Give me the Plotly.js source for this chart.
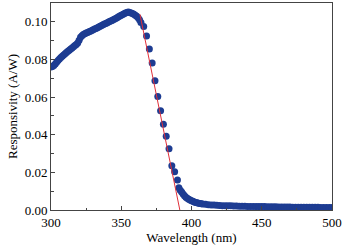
<!DOCTYPE html>
<html><head><meta charset="utf-8">
<script src="https://cdn.plot.ly/plotly-3.0.1.min.js"></script>
<style>html,body{margin:0;padding:0;background:#fff;}#plot{width:344px;height:245px;}</style>
</head><body><div id="plot"></div>
<script>
// Dense measured part (rising region up to the peak)
const denseX = [300,301,302,303,304,305,306,307,308,309,310,311,312,313,314,315,316,317,318,319,320,321,322,323,324,325,326,327,328,329,330,331,332,333,334,335,336,337,338,339,340,341,342,343,344,345,346,347,348,349,350,351,352,353,354,355,356,357,358,359,360,361,362,363,364];
const denseY = [0.0760,0.0762,0.0768,0.0776,0.0785,0.0794,0.0803,0.0810,0.0817,0.0824,0.0830,0.0837,0.0843,0.0849,0.0855,0.0861,0.0868,0.0874,0.0880,0.0888,0.0902,0.0918,0.0926,0.0932,0.0937,0.0940,0.0943,0.0947,0.0950,0.0954,0.0958,0.0962,0.0965,0.0969,0.0973,0.0977,0.0980,0.0984,0.0988,0.0991,0.0995,0.0999,0.1003,0.1006,0.1010,0.1014,0.1018,0.1022,0.1027,0.1031,0.1035,0.1039,0.1043,0.1047,0.1050,0.1052,0.1050,0.1047,0.1044,0.1040,0.1035,0.1029,0.1021,0.1011,0.0997];
// Sparse points on the falling edge
const edgeX = [366,368,370,372,374,376,378,380,382,384,386,388,390];
const edgeY = [0.0975,0.0924,0.0855,0.0781,0.0687,0.0603,0.0527,0.0456,0.0392,0.0325,0.0235,0.0203,0.0159];
// Tail
const tailX = [391,392,393,394,395,396,397,398,399,400,401,402,403,404,405,406,407,408,410,412,414,416,418,420,422,424,426,428,430,432,434,436,438,440,442,444,446,448,450,452,454,456,458,460,462,464,466,468,470,472,474,476,478,480,482,484,486,488,490,492,494,496,498,500];
const tailY = [0.0118,0.0105,0.0095,0.0085,0.0076,0.0068,0.0062,0.0057,0.0053,0.0049,0.0046,0.0043,0.0040,0.0038,0.0036,0.0034,0.0033,0.0032,0.0030,0.0028,0.0027,0.0026,0.0025,0.0024,0.0023,0.0023,0.0022,0.0022,0.0021,0.0021,0.0020,0.0020,0.0020,0.0019,0.0019,0.0019,0.0018,0.0018,0.0018,0.0018,0.0017,0.0017,0.0017,0.0017,0.0016,0.0016,0.0016,0.0016,0.0016,0.0015,0.0015,0.0015,0.0015,0.0015,0.0014,0.0014,0.0014,0.0014,0.0014,0.0013,0.0013,0.0013,0.0013,0.0013];
// Linear fit of the edge
const fitX = [363.3, 391.7];
const fitY = [0.104, 0.0];

const blue = '#1d3c92';
const mk = {color: blue, size: 7};
const traces = [
  {x: denseX, y: denseY, mode: 'markers', marker: mk, type: 'scatter', hoverinfo: 'skip'},
  {x: edgeX, y: edgeY, mode: 'markers', marker: mk, type: 'scatter', hoverinfo: 'skip'},
  {x: tailX, y: tailY, mode: 'markers', marker: mk, type: 'scatter', hoverinfo: 'skip'},
  {x: fitX, y: fitY, mode: 'lines', line: {color: '#e0303a', width: 1}, type: 'scatter', hoverinfo: 'skip'}
];
const font = {family: '"Liberation Serif", "Times New Roman", serif', size: 13, color: '#000'};
const layout = {
  width: 344, height: 245,
  margin: {l: 51, r: 12, t: 3, b: 35},
  paper_bgcolor: '#fff', plot_bgcolor: '#fff',
  showlegend: false,
  font: font,
  xaxis: {
    range: [300, 500], tickvals: [300,350,400,450,500],
    ticks: 'inside', ticklen: 4, tickcolor: '#444', tickwidth: 1,
    minor: {tickvals: [325,375,425,475], ticks: 'inside', ticklen: 2.5, tickcolor: '#444'},
    showline: true, linecolor: '#444', linewidth: 1, mirror: true,
    showgrid: false, zeroline: false,
    tickfont: font,
    title: {text: 'Wavelength (nm)', font: font, standoff: 1}
  },
  yaxis: {
    range: [0, 0.11], tickvals: [0,0.02,0.04,0.06,0.08,0.10], tickformat: '.2f',
    ticks: 'inside', ticklen: 4, tickcolor: '#444', tickwidth: 1,
    minor: {tickvals: [0.01,0.03,0.05,0.07,0.09], ticks: 'inside', ticklen: 2.5, tickcolor: '#444'},
    showline: true, linecolor: '#444', linewidth: 1, mirror: true,
    showgrid: false, zeroline: false,
    tickfont: font,
    title: {text: 'Responsivity (A/W)', font: font, standoff: 4}
  }
};
Plotly.newPlot('plot', traces, layout, {staticPlot: true, displayModeBar: false});
</script></body></html>
